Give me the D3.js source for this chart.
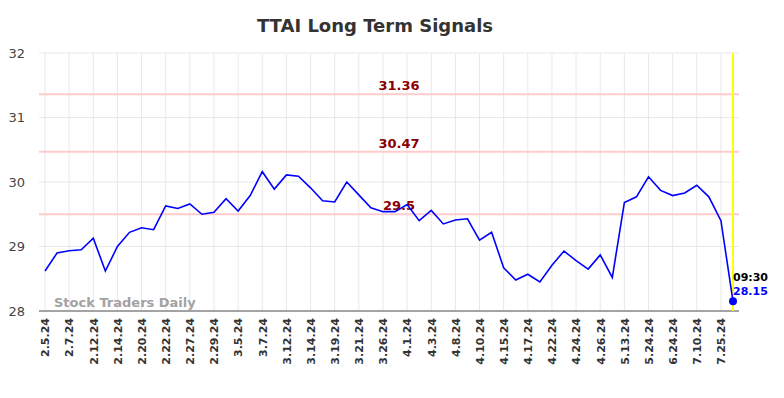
<!DOCTYPE html>
<html><head><meta charset="utf-8">
<script src="https://cdn.jsdelivr.net/npm/d3@7"></script>
<style>body{margin:0;background:#fff;font-family:"DejaVu Sans",sans-serif;}</style>
</head><body><svg id="c" width="784" height="398"></svg>
<script>
const tickLabels = ["2.5.24","2.7.24","2.12.24","2.14.24","2.20.24","2.22.24","2.27.24","2.29.24","3.5.24","3.7.24","3.12.24","3.14.24","3.19.24","3.21.24","3.26.24","4.1.24","4.3.24","4.8.24","4.10.24","4.15.24","4.17.24","4.22.24","4.24.24","4.26.24","5.13.24","5.24.24","6.24.24","7.10.24","7.25.24"];
const values = [28.62,28.90,28.935,28.95,29.13,28.62,29.00,29.22,29.29,29.26,
29.63,29.59,29.66,29.50,29.53,29.74,29.55,29.79,30.16,29.89,
30.11,30.09,29.91,29.71,29.69,30.00,29.80,29.60,29.54,29.54,
29.65,29.40,29.56,29.35,29.41,29.43,29.10,29.22,28.67,28.48,
28.57,28.45,28.71,28.93,28.78,28.65,28.87,28.52,29.68,29.77,
30.08,29.87,29.79,29.83,29.95,29.77,29.40,28.15];
const signalLevels = [31.36, 30.47, 29.5];
const signalLabels = ["31.36","30.47","29.5"];
const yTicks = [28,29,30,31,32];
const lastTime = "09:30";
const lastLabel = "28.15";

const svg = d3.select("#c");
const L = 39, R = 739, T = 53, B = 311;
const x = d3.scaleLinear().domain([0, values.length-1]).range([45, 733]);
const y = d3.scaleLinear().domain([28, 32]).range([B, T]);

svg.append("text").attr("x", 375).attr("y", 32).attr("text-anchor","middle")
  .attr("font-size", 18).attr("font-weight","bold").attr("fill","#333").text("TTAI Long Term Signals");

// grid
const tickIdx = tickLabels.map((d,i)=>i*2);
svg.append("g").selectAll("line").data(yTicks).join("line")
  .attr("x1", L).attr("x2", R).attr("y1", d=>y(d)).attr("y2", d=>y(d))
  .attr("stroke","#e8e8e8").attr("stroke-width",1);
svg.append("g").selectAll("line").data(tickIdx).join("line")
  .attr("x1", d=>x(d)).attr("x2", d=>x(d)).attr("y1", T).attr("y2", B)
  .attr("stroke","#e8e8e8").attr("stroke-width",1);

// y axis labels
const yAxis = svg.append("g").attr("transform",`translate(${L},0)`)
  .call(d3.axisLeft(y).tickValues(yTicks).tickSize(0).tickPadding(14).tickFormat(d3.format("d")));
yAxis.select(".domain").remove();
yAxis.selectAll("text").attr("font-size",13).attr("fill","#444").attr("font-family","DejaVu Sans, sans-serif");

// x axis
const xAxis = svg.append("g").attr("transform",`translate(0,${B})`)
  .call(d3.axisBottom(x).tickValues(tickIdx).tickSize(0).tickFormat((d,i)=>tickLabels[i]));
xAxis.select(".domain").attr("d", `M${L},0H${R}`).attr("stroke","#555").attr("stroke-width",1.2);
xAxis.selectAll("text").attr("font-size",11).attr("font-weight","bold").attr("fill","#333")
  .attr("font-family","DejaVu Sans, sans-serif")
  .attr("transform","rotate(-90)").attr("text-anchor","end").attr("x",-7).attr("y",0).attr("dy","0.35em");

// signal lines
svg.append("g").selectAll("line").data(signalLevels).join("line")
  .attr("x1", L).attr("x2", R).attr("y1", d=>y(d)).attr("y2", d=>y(d))
  .attr("stroke","#ffcccc").attr("stroke-width",2);
svg.append("g").selectAll("text").data(signalLevels).join("text")
  .attr("x", 399).attr("y", d=>y(d)-4).attr("text-anchor","middle")
  .attr("font-size",13).attr("font-weight","bold").attr("fill","#8b0000")
  .text((d,i)=>signalLabels[i]);

// watermark
svg.append("text").attr("x",54).attr("y",307).attr("font-size",13).attr("font-weight","bold")
  .attr("fill","#999").attr("opacity",0.9).text("Stock Traders Daily");

// yellow line
const li = values.length-1;
svg.append("line").attr("x1",x(li)).attr("x2",x(li)).attr("y1",T).attr("y2",B)
  .attr("stroke","#ffff00").attr("stroke-width",2);

// price line
svg.append("path").datum(values)
  .attr("d", d3.line().x((d,i)=>x(i)).y(d=>y(d)))
  .attr("fill","none").attr("stroke","#0000ff").attr("stroke-width",1.6);

svg.append("circle").attr("cx",x(li)).attr("cy",y(values[li])).attr("r",4).attr("fill","#0000ff");
svg.append("text").attr("x",x(li)).attr("y",y(values[li])-20).attr("font-size",11).attr("font-weight","bold")
  .attr("fill","#000").text(lastTime);
svg.append("text").attr("x",x(li)).attr("y",y(values[li])-6).attr("font-size",11).attr("font-weight","bold")
  .attr("fill","#0000ff").text(lastLabel);
</script></body></html>
